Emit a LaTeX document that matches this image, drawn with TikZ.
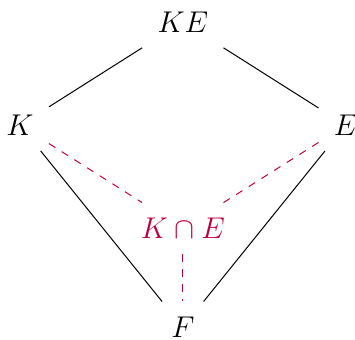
\documentclass[tikz,border=0pt]{standalone}
\usepackage{amsmath,amssymb}
\usepackage{tikz}
\usetikzlibrary{positioning}

\begin{document}
\begin{tikzpicture}[
    font=\large,
    field/.style={inner sep=6pt},
    ext/.style={thin},
    meet/.style={thin, dashed, purple},
]
\useasboundingbox (0,0) rectangle (4.99,4.77);

% lattice of fields
\node[field] (KE) at (2.57,4.46) {$KE$};
\node[field] (K) at (0.28,3.01) {$K$};
\node[field] (E) at (4.86,3.01) {$E$};
\node[field, text=purple] (KcapE) at (2.57,1.56) {$K\cap E$};
\node[field] (F) at (2.57,0.17) {$F$};

\draw[ext] (KE) -- (K);
\draw[ext] (KE) -- (E);
\draw[ext] (K) -- (F);
\draw[ext] (E) -- (F);

\draw[meet] (K) -- (KcapE);
\draw[meet] (E) -- (KcapE);
\draw[meet] (KcapE) -- (F);

\end{tikzpicture}
\end{document}
